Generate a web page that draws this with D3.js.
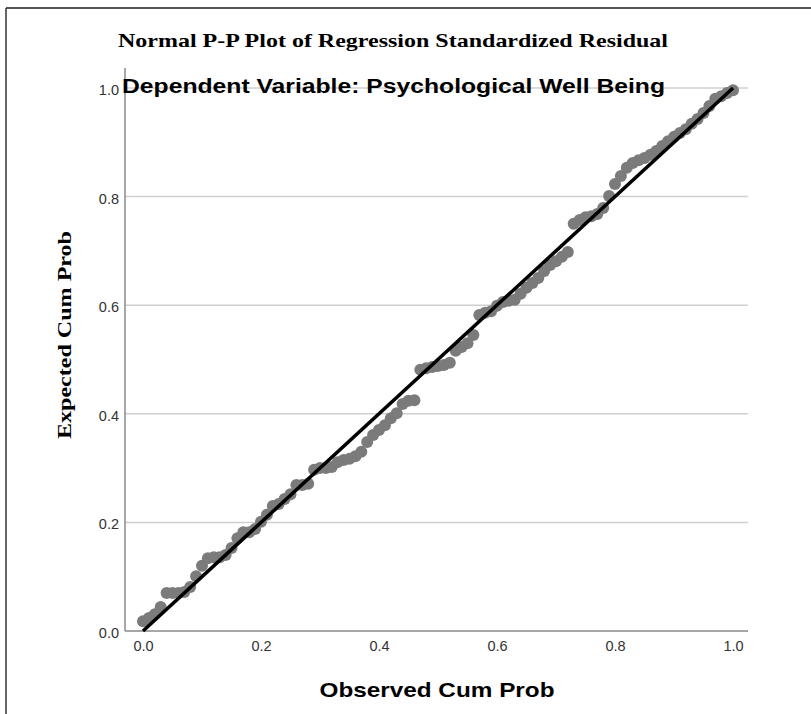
<!DOCTYPE html>
<html>
<head>
<meta charset="utf-8">
<script src="https://cdn.jsdelivr.net/npm/d3@7"></script>
<style>
  body { margin: 0; background: #fff; }
  svg { display: block; }
</style>
</head>
<body>
<div id="chart"></div>
<script>
// observed cumulative probability (x) and expected cumulative probability (y)
const observed = [
  0.00, 0.01, 0.02, 0.03, 0.04, 0.05, 0.06, 0.07, 0.08, 0.09,
  0.10, 0.11, 0.12, 0.13, 0.14, 0.15, 0.16, 0.17, 0.18, 0.19,
  0.20, 0.21, 0.22, 0.23, 0.24, 0.25, 0.26, 0.27, 0.28, 0.29,
  0.30, 0.31, 0.32, 0.33, 0.34, 0.35, 0.36, 0.37, 0.38, 0.39,
  0.40, 0.41, 0.42, 0.43, 0.44, 0.45, 0.46, 0.47, 0.48, 0.49,
  0.50, 0.51, 0.52, 0.53, 0.54, 0.55, 0.56, 0.57, 0.58, 0.59,
  0.60, 0.61, 0.62, 0.63, 0.64, 0.65, 0.66, 0.67, 0.68, 0.69,
  0.70, 0.71, 0.72, 0.73, 0.74, 0.75, 0.76, 0.77, 0.78, 0.79,
  0.80, 0.81, 0.82, 0.83, 0.84, 0.85, 0.86, 0.87, 0.88, 0.89,
  0.90, 0.91, 0.92, 0.93, 0.94, 0.95, 0.96, 0.97, 0.98, 0.99, 1.00
];
const expected = [
  0.018, 0.024, 0.031, 0.044, 0.070, 0.070, 0.070, 0.072, 0.081, 0.101,
  0.120, 0.134, 0.136, 0.136, 0.140, 0.153, 0.171, 0.182, 0.182, 0.188,
  0.201, 0.214, 0.230, 0.234, 0.243, 0.252, 0.269, 0.269, 0.271, 0.297,
  0.300, 0.300, 0.302, 0.311, 0.315, 0.317, 0.322, 0.330, 0.348, 0.361,
  0.370, 0.379, 0.392, 0.401, 0.418, 0.424, 0.425, 0.481, 0.484, 0.486,
  0.488, 0.490, 0.494, 0.516, 0.523, 0.530, 0.545, 0.582, 0.586, 0.589,
  0.599, 0.606, 0.608, 0.610, 0.621, 0.632, 0.641, 0.650, 0.663, 0.674,
  0.681, 0.689, 0.698, 0.750, 0.757, 0.762, 0.764, 0.768, 0.779, 0.801,
  0.823, 0.838, 0.853, 0.862, 0.867, 0.871, 0.877, 0.884, 0.893, 0.902,
  0.910, 0.917, 0.924, 0.934, 0.943, 0.954, 0.967, 0.980, 0.985, 0.991, 0.996
];
const tickValues = [0, 0.2, 0.4, 0.6, 0.8, 1.0];

const width = 811, height = 714;

const svg = d3.select('#chart').append('svg')
  .attr('width', width)
  .attr('height', height);

// outer frame (top and left edges only, as cropped)
svg.append('line').attr('x1', 6).attr('x2', width).attr('y1', 8).attr('y2', 8)
  .attr('stroke', '#555').attr('stroke-width', 2);
svg.append('line').attr('x1', 6).attr('x2', 6).attr('y1', 8).attr('y2', height)
  .attr('stroke', '#333').attr('stroke-width', 1.5);

const x = d3.scaleLinear().domain([0, 1]).range([143, 733]);
const y = d3.scaleLinear().domain([0, 1]).range([631, 88]);
const plotLeft = 125, plotRight = 748, plotTop = 68;

// gridlines
svg.append('g')
  .selectAll('line')
  .data(tickValues.filter(d => d > 0))
  .join('line')
    .attr('x1', plotLeft).attr('x2', plotRight)
    .attr('y1', d => y(d)).attr('y2', d => y(d))
    .attr('stroke', '#cfcfcf').attr('stroke-width', 1.5);

// axis lines
svg.append('line').attr('x1', plotLeft).attr('x2', plotLeft).attr('y1', plotTop).attr('y2', y(0))
  .attr('stroke', '#8a8a8a').attr('stroke-width', 1.5);
svg.append('line').attr('x1', plotLeft).attr('x2', plotRight).attr('y1', y(0)).attr('y2', y(0))
  .attr('stroke', '#8a8a8a').attr('stroke-width', 1.5);

// tick labels via d3 axes (no tick marks)
const xAxis = svg.append('g')
  .attr('transform', 'translate(0,' + (y(0) + 5) + ')')
  .call(d3.axisBottom(x).tickValues(tickValues).tickFormat(d3.format('.1f')).tickSize(0).tickPadding(5));
const yAxis = svg.append('g')
  .attr('transform', 'translate(' + (plotLeft - 6) + ',0)')
  .call(d3.axisLeft(y).tickValues(tickValues).tickFormat(d3.format('.1f')).tickSize(0).tickPadding(0));
[xAxis, yAxis].forEach(g => {
  g.select('.domain').remove();
  g.selectAll('text')
    .attr('font-family', 'Liberation Sans, Arial, sans-serif')
    .attr('font-size', 14.5)
    .attr('fill', '#333');
});
yAxis.selectAll('text').attr('dy', '0.45em');

// points
const pts = observed.map((o, i) => ({ o: o, e: expected[i] }));
svg.append('g')
  .selectAll('circle')
  .data(pts)
  .join('circle')
    .attr('cx', d => x(d.o))
    .attr('cy', d => y(d.e))
    .attr('r', 6)
    .attr('fill', '#7b7b7b');

// reference diagonal
svg.append('line')
  .attr('x1', x(0)).attr('y1', y(0))
  .attr('x2', x(1)).attr('y2', y(1))
  .attr('stroke', '#000').attr('stroke-width', 3.5);

// titles
svg.append('text')
  .attr('x', 118).attr('y', 47)
  .attr('font-family', 'Liberation Serif, Times New Roman, serif')
  .attr('font-weight', 'bold')
  .attr('font-size', 19)
  .attr('textLength', 550).attr('lengthAdjust', 'spacingAndGlyphs')
  .text('Normal P-P Plot of Regression Standardized Residual');

svg.append('text')
  .attr('x', 122).attr('y', 93)
  .attr('font-family', 'Liberation Sans, Arial, sans-serif')
  .attr('font-weight', 'bold')
  .attr('font-size', 20)
  .attr('textLength', 543).attr('lengthAdjust', 'spacingAndGlyphs')
  .text('Dependent Variable: Psychological Well Being');

svg.append('text')
  .attr('transform', 'translate(71,335) rotate(-90)')
  .attr('text-anchor', 'middle')
  .attr('font-family', 'Liberation Serif, Times New Roman, serif')
  .attr('font-weight', 'bold')
  .attr('font-size', 19)
  .attr('textLength', 208).attr('lengthAdjust', 'spacingAndGlyphs')
  .text('Expected Cum Prob');

svg.append('text')
  .attr('x', 437).attr('y', 697)
  .attr('text-anchor', 'middle')
  .attr('font-family', 'Liberation Sans, Arial, sans-serif')
  .attr('font-weight', 'bold')
  .attr('font-size', 21)
  .attr('textLength', 235).attr('lengthAdjust', 'spacingAndGlyphs')
  .text('Observed Cum Prob');
</script>
</body>
</html>
